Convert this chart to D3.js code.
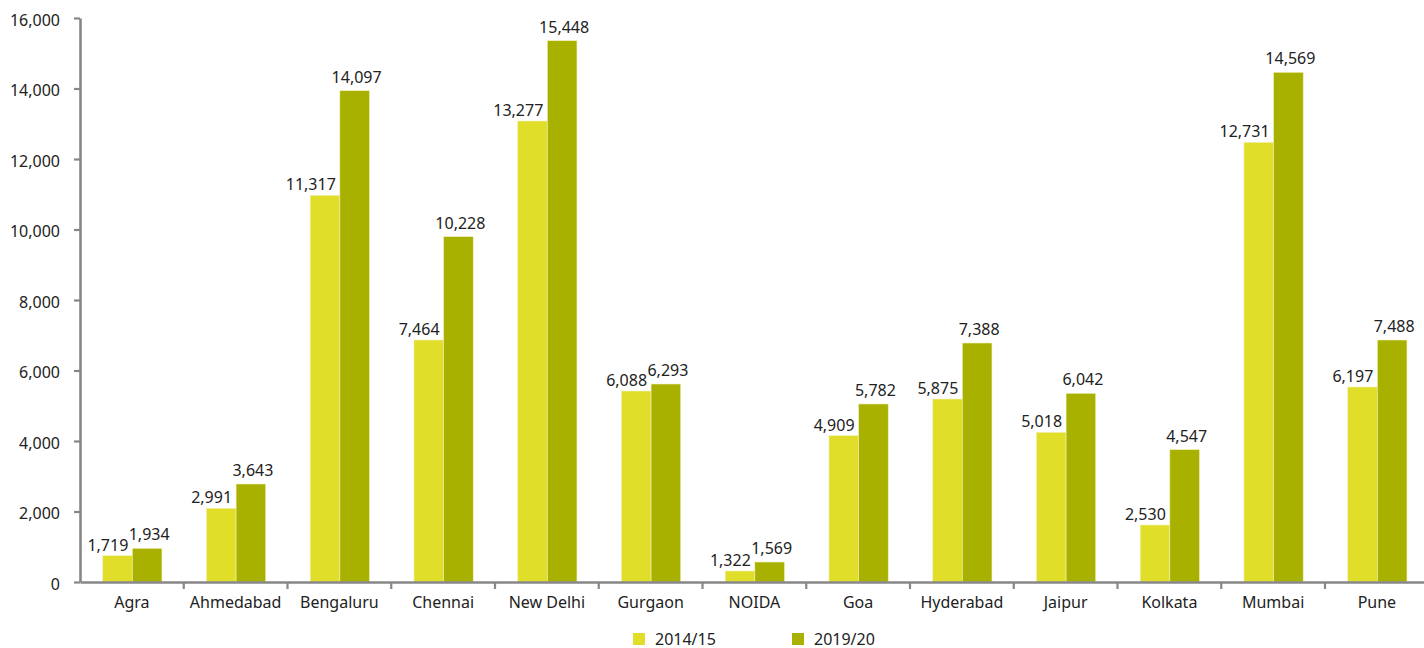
<!DOCTYPE html>
<html>
<head>
<meta charset="utf-8">
<script src="https://cdn.jsdelivr.net/npm/d3@7"></script>
<style>
    body { margin: 0; background: #fff; }
    svg { display: block; font-family: "Noto Sans", sans-serif; }
</style>
</head>
<body>
<svg id="chart" width="1424" height="648"></svg>
<script>
// categories and series
let cities = ["Agra", "Ahmedabad", "Bengaluru", "Chennai", "New Delhi", "Gurgaon", "NOIDA",
    "Goa", "Hyderabad", "Jaipur", "Kolkata", "Mumbai", "Pune"];
let seriesNames = ["2014/15", "2019/20"];
// bar heights as drawn in the picture
let bars1415 = [746, 2091, 10970, 6865, 13078, 5418, 312, 4151, 5191, 4246, 1617, 12473, 5532];
let bars1920 = [956, 2780, 13938, 9796, 15356, 5617, 567, 5050, 6780, 5353, 3754, 14459, 6865];
// data labels as printed
let labels1415 = ["1,719", "2,991", "11,317", "7,464", "13,277", "6,088", "1,322", "4,909", "5,875", "5,018", "2,530", "12,731", "6,197"];
let labels1920 = ["1,934", "3,643", "14,097", "10,228", "15,448", "6,293", "1,569", "5,782", "7,388", "6,042", "4,547", "14,569", "7,488"];
let yTicks = [0, 2000, 4000, 6000, 8000, 10000, 12000, 14000, 16000];
let colors = ["#E1DE2A", "#A8B000"];

let svg = d3.select("#chart");
let axisColor = "#878787",
    textColor = "#222",
    fontSize = 16;

let x0 = d3.scaleBand().domain(cities).range([80, 1428.75]).padding(0);
let bw = x0.bandwidth();
let x1 = d3.scaleBand().domain(seriesNames).range([bw * 0.219, bw * 0.79]).padding(0);
let y = d3.scaleLinear().domain([0, 16000]).range([582, 18]);

let rows = cities.map((c, i) => ({
    city: c,
    vals: [
        {s: seriesNames[0], v: bars1415[i], label: labels1415[i]},
        {s: seriesNames[1], v: bars1920[i], label: labels1920[i]}
    ]
}));

// bars
let groups = svg.append("g").selectAll("g")
    .data(rows)
    .join("g")
    .attr("transform", d => "translate(" + x0(d.city) + ",0)");

groups.selectAll("rect")
    .data(d => d.vals)
    .join("rect")
    .attr("x", d => x1(d.s))
    .attr("y", d => y(d.v))
    .attr("width", x1.bandwidth())
    .attr("height", d => y(0) - y(d.v))
    .attr("fill", (d, i) => colors[i])
    .attr("stroke", "#f2f0b8")
    .attr("stroke-width", 0.6);

// data labels: first series right-aligned near bar edge, second centred
groups.selectAll("text")
    .data(d => d.vals)
    .join("text")
    .attr("x", (d, i) => i === 0 ? x1(d.s) + x1.bandwidth() - 4 : x1(d.s) + x1.bandwidth() / 2 + 2)
    .attr("y", (d, i) => y(d.v) - (i === 0 ? 5 : 8))
    .attr("text-anchor", (d, i) => i === 0 ? "end" : "middle")
    .attr("font-size", fontSize)
    .attr("fill", textColor)
    .text(d => d.label);

// y axis
let yAxis = svg.append("g")
    .attr("transform", "translate(80,0)")
    .call(d3.axisLeft(y).tickValues(yTicks).tickFormat(d3.format(",")).tickSize(6).tickSizeOuter(0));
yAxis.select(".domain").attr("stroke", axisColor).attr("stroke-width", 2.6);
yAxis.selectAll(".tick line").attr("stroke", axisColor).attr("stroke-width", 2.2);
yAxis.selectAll(".tick text")
    .attr("x", -20)
    .attr("dy", "0.45em")
    .attr("font-size", fontSize)
    .attr("font-family", "'Noto Sans', sans-serif")
    .attr("fill", textColor);

// x axis with ticks on category boundaries
let xAxis = svg.append("g")
    .attr("transform", "translate(0," + y(0) + ")")
    .call(d3.axisBottom(x0).tickSize(0).tickSizeOuter(0));
xAxis.select(".domain").attr("stroke", axisColor).attr("stroke-width", 2.6);
xAxis.selectAll(".tick text")
    .attr("dy", "1.45em")
    .attr("font-size", fontSize)
    .attr("font-family", "'Noto Sans', sans-serif")
    .attr("fill", textColor);
xAxis.selectAll(".bound")
    .data(cities.slice(1))
    .join("line")
    .attr("class", "bound")
    .attr("x1", d => x0(d))
    .attr("x2", d => x0(d))
    .attr("y1", 0)
    .attr("y2", 7)
    .attr("stroke", axisColor)
    .attr("stroke-width", 2.2);

// legend
let legend = svg.append("g").selectAll("g")
    .data(seriesNames)
    .join("g")
    .attr("transform", (d, i) => "translate(" + (633 + i * 159) + ",633)");
legend.append("rect")
    .attr("width", 12)
    .attr("height", 12)
    .attr("fill", (d, i) => colors[i]);
legend.append("text")
    .attr("x", 22)
    .attr("y", 11.5)
    .attr("font-size", fontSize)
    .attr("fill", textColor)
    .text(d => d);
</script>
</body>
</html>
